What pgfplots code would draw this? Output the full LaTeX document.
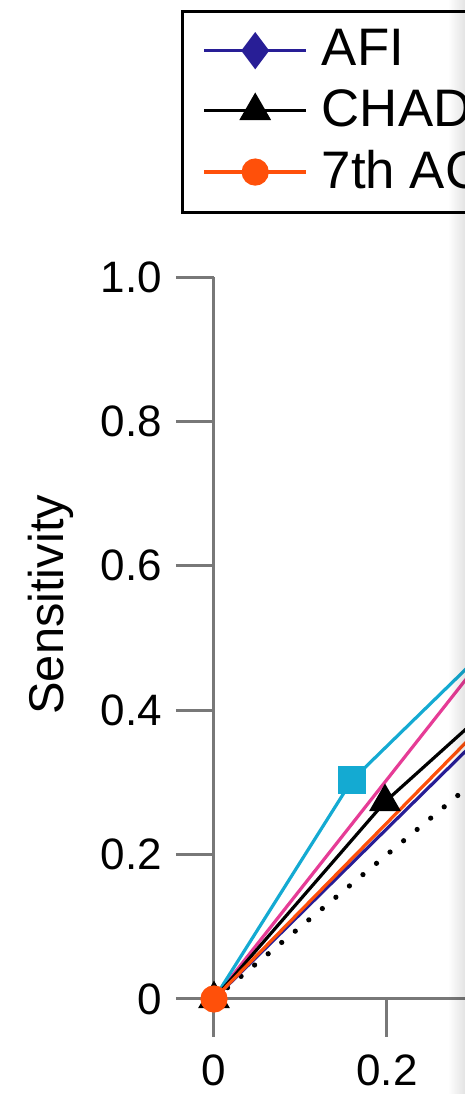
\documentclass[border=0pt]{standalone}
\usepackage{fontspec}
\setmainfont{Liberation Sans}
\usepackage{pgfplots}
\pgfplotsset{compat=1.18}
\usetikzlibrary{fadings}
\definecolor{afiblue}{RGB}{40,30,150}
\definecolor{acorange}{RGB}{255,80,10}
\definecolor{cyanline}{RGB}{20,170,210}
\definecolor{magline}{RGB}{230,60,150}
\definecolor{axgray}{RGB}{120,120,120}
\begin{document}
\begin{tikzpicture}
\begin{axis}[
  x=216.25pt, y=180.5pt,
  xmin=0, xmax=1, ymin=0, ymax=1,
  axis lines*=left,
  enlargelimits=false,
  clip=false,
  axis line style={axgray, line width=0.75pt},
  tick style={axgray, line width=0.75pt},
  tick align=outside,
  major tick length=9.5pt,
  xtick={0,0.2,0.4,0.6,0.8,1},
  xticklabels={0,0.2,0.4,0.6,0.8,1.0},
  ytick={0,0.2,0.4,0.6,0.8,1},
  yticklabels={0,0.2,0.4,0.6,0.8,1.0},
  tick label style={font=\fontsize{11}{13}\selectfont},
  xticklabel style={yshift=-1pt},
  /pgf/number format/assume math mode=true,
  legend style={at={(axis cs:-0.038,1.3698)}, anchor=north west,
    draw=black, line width=0.75pt,
    font=\fontsize{13.2}{15}\selectfont,
    inner xsep=5pt, inner ysep=2.5pt, row sep=0.4pt, column sep=1.5pt},
  legend cell align=left,
  legend image code/.code={\draw[mark repeat=2,mark phase=2] plot coordinates {(0pt,0pt) (12.75pt,0pt) (25.5pt,0pt)};},
]
% reference diagonal
\addplot[forget plot, black, line width=1.3pt, line cap=round, dash pattern=on 0.01pt off 4.4pt] coordinates {(0,0) (1,1)};
% other series (beyond visible area in reference)
\addplot[forget plot, magline, line width=0.8pt, mark=none] coordinates {(0,0) (0.4,0.608)};
\addplot[forget plot, cyanline, line width=0.8pt, mark=square*, mark size=3.1pt, mark indices={2,3}, mark options={fill=cyanline, draw=cyanline}] coordinates {(0,0) (0.1595,0.303) (0.4,0.584)};
% legend series
\addplot[afiblue, line width=0.8pt, mark=diamond*, mark size=4pt, mark indices={2}, mark options={fill=afiblue, draw=afiblue}] coordinates {(0,0) (0.4,0.472)};
\addlegendentry{AFI}
\addplot[black, line width=0.8pt, mark=triangle*, mark size=3.8pt, mark options={fill=black, draw=black}] coordinates {(0,0) (0.1977,0.273) (0.4,0.491)};
\addlegendentry{CHADS$_2$}
\addplot[acorange, line width=0.8pt, mark=*, mark size=3pt, mark options={fill=acorange, draw=acorange}] coordinates {(0,0) (0.4,0.488)};
\addlegendentry{7th ACCP}
\node[rotate=90, font=\fontsize{12.2}{14}\selectfont] at (axis cs:-0.188,0.546) {Sensitivity};
\coordinate (BL) at (axis cs:-0.2474,-0.1316);
\coordinate (TR) at (axis cs:0.2902,1.3837);
\coordinate (F1) at (axis cs:0.2705,-0.1316);
\end{axis}
\fill[black, opacity=0.11, path fading=west] (F1) rectangle (TR);
\pgfresetboundingbox
\useasboundingbox (BL) rectangle (TR);
\end{tikzpicture}
\end{document}
